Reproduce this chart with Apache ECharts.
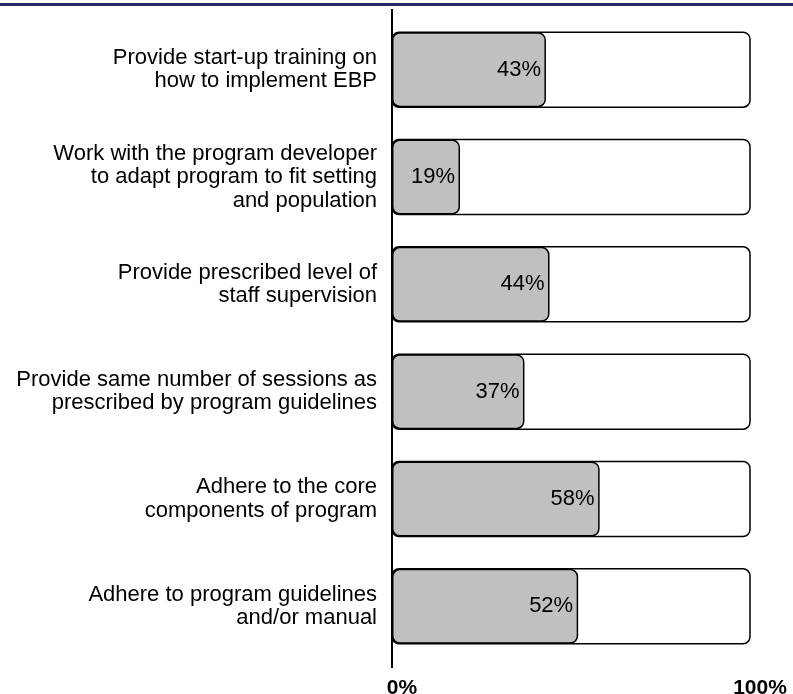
<!DOCTYPE html>
<html><head><meta charset="utf-8">
<script src="https://cdn.jsdelivr.net/npm/echarts@6/dist/echarts.min.js"></script>
<style>html,body{margin:0;padding:0;background:#fff}#c{width:793px;height:694px}</style>
</head><body><div id="c"></div>
<script>
const categories = [
  "Provide start-up training on\nhow to implement EBP",
  "Work with the program developer\nto adapt program to fit setting\nand population",
  "Provide prescribed level of\nstaff supervision",
  "Provide same number of sessions as\nprescribed by program guidelines",
  "Adhere to the core\ncomponents of program",
  "Adhere to program guidelines\nand/or manual"
];
const values = [43, 19, 44, 37, 58, 52];
const axisMin = 0;
const axisMax = 100;

const FONT = "'Liberation Sans', Arial, sans-serif";
const chart = echarts.init(document.getElementById('c'), null, {renderer: 'canvas'});
chart.setOption({
  animation: false,
  backgroundColor: '#fff',
  grid: {left: 392, right: 43, top: 16, bottom: 34, containLabel: false, outerBoundsMode: 'none'},
  xAxis: {
    type: 'value', min: axisMin, max: axisMax, interval: axisMax - axisMin,
    axisLine: {show: false}, axisTick: {show: false}, splitLine: {show: false},
    axisLabel: {
      formatter: v => v + '%', fontFamily: FONT, fontSize: 21, fontWeight: 'bold',
      color: '#000', margin: 18, padding: [0, 0, 0, 20]
    }
  },
  yAxis: {
    type: 'category', data: categories, inverse: true,
    axisLine: {show: false}, axisTick: {show: false}, splitLine: {show: false},
    axisLabel: {
      fontFamily: FONT, fontSize: 22, lineHeight: 23.5, color: '#000',
      margin: 15, align: 'right'
    }
  },
  series: [{
    type: 'bar', data: values, barWidth: 75,
    itemStyle: {color: '#c0c0c0', borderColor: '#000', borderWidth: 1.5, borderRadius: 7},
    showBackground: true,
    backgroundStyle: {color: '#fff', borderColor: '#000', borderWidth: 1.5, borderRadius: 7, opacity: 1},
    label: {
      show: true, position: 'insideRight', distance: 5, formatter: '{c}%',
      fontFamily: FONT, fontSize: 22, color: '#000'
    }
  }],
  graphic: [
    {type: 'rect', shape: {x: 0, y: 3, width: 793, height: 3}, style: {fill: '#23286b'}, z: 100},
    {type: 'line', shape: {x1: 392, y1: 9, x2: 392, y2: 668}, style: {stroke: '#000', lineWidth: 2}, z: 100}
  ]
});
</script></body></html>
